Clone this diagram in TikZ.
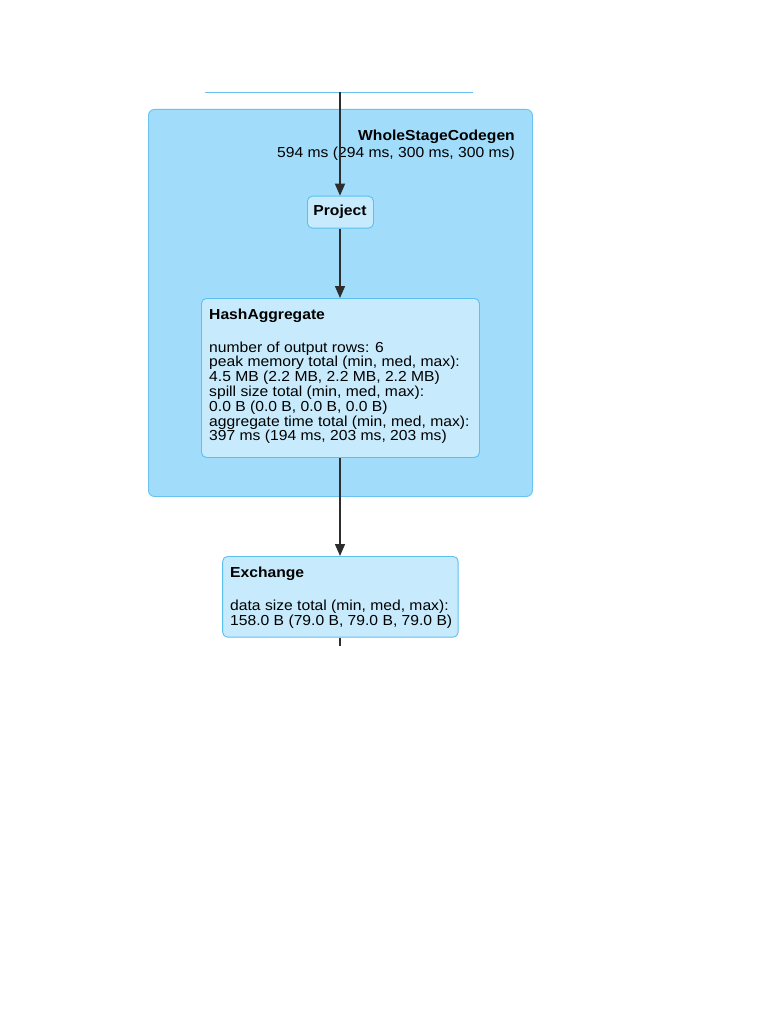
\documentclass[tikz,border=0pt]{standalone}
\usepackage{fontspec}
\setmainfont{Liberation Sans}
\usetikzlibrary{arrows.meta}
\definecolor{clusterfill}{RGB}{161,220,250}
\definecolor{clusterline}{RGB}{105,195,238}
\definecolor{nodefill}{RGB}{199,235,252}
\definecolor{nodeline}{RGB}{92,192,238}
\definecolor{edgecol}{RGB}{45,45,45}
\tikzset{
  cluster/.style={draw=clusterline, fill=clusterfill, line width=0.9pt, rounded corners=6pt},
  opbox/.style={draw=nodeline, fill=nodefill, line width=0.9pt, rounded corners=5pt, anchor=north west, inner sep=0pt},
  label/.style={inner sep=0pt, xscale=1.08, transform shape, font=\fontsize{14.5}{14.8}\selectfont},
  optext/.style={label, anchor=base west, align=left},
  edge/.style={draw=edgecol, line width=1.4pt, -{Triangle[length=12pt,width=10pt]}},
  plain/.style={draw=edgecol, line width=1.4pt}
}
\begin{document}
\begin{tikzpicture}[x=1pt,y=-1pt]
\useasboundingbox (0,0) rectangle (781,1011);
\fill[white] (0,0) rectangle (781,1011);

% bottom edge of the preceding stage, cut off above
\draw[clusterline, line width=0.8pt] (205,92) coordinate (prevl) -- (473,92) coordinate (prevr);

% WholeStageCodegen cluster
\node[cluster, anchor=north west, minimum width=384, minimum height=387, inner sep=0pt] (wsc) at (148,109) {};
\node[label, anchor=base east, font=\fontsize{14.5}{14.8}\selectfont\bfseries] (wsctitle) at (515,140.7) {WholeStageCodegen};
\node[label, anchor=base east] (wsctime) at (515,157.7) {594 ms (294 ms, 300 ms, 300 ms)};

% operator boxes (the text node's base is the baseline of its last line)
\node[opbox, minimum width=66, minimum height=32] (project) at (307,195.7) {};
\node[label, anchor=base, font=\fontsize{14.5}{14.8}\selectfont\bfseries] (projecttext) at (340,215.7) {Project};

\node[opbox, minimum width=278, minimum height=159] (hashagg) at (201,298) {};
\node[optext] (hashaggtext) at (209,440.8) {\textbf{HashAggregate}\\[18.2pt]
number of output rows: 6\\
peak memory total (min, med, max):\\
4.5 MB (2.2 MB, 2.2 MB, 2.2 MB)\\
spill size total (min, med, max):\\
0.0 B (0.0 B, 0.0 B, 0.0 B)\\
aggregate time total (min, med, max):\\
397 ms (194 ms, 203 ms, 203 ms)};

\node[opbox, minimum width=235.5, minimum height=80.7] (exchange) at (222.2,556) {};
\node[optext] (exchangetext) at (230,625.5) {\textbf{Exchange}\\[18.7pt]
data size total (min, med, max):\\
158.0 B (79.0 B, 79.0 B, 79.0 B)};

% connectors
\coordinate (topin) at (340,92);
\coordinate (tailout) at (340,646);
\draw[edge] (topin) -- (project.north -| topin);
\draw[edge] (project.south -| topin) -- (hashagg.north -| topin);
\draw[edge] (hashagg.south -| topin) -- (exchange.north -| topin);
\draw[plain] (exchange.south -| topin) -- (tailout);
\end{tikzpicture}
\end{document}
